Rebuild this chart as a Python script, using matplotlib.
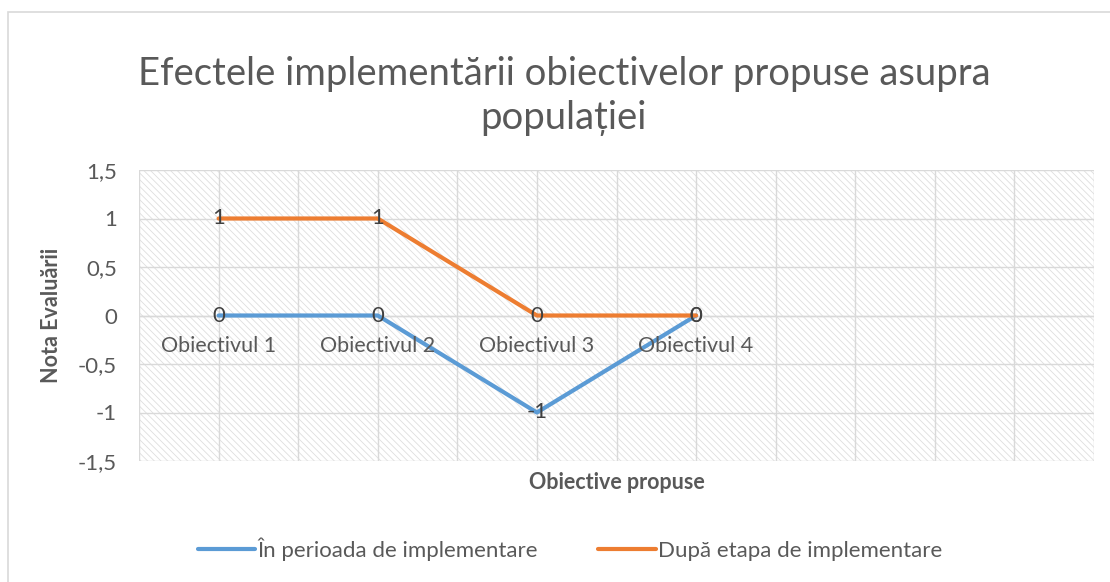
import matplotlib
matplotlib.use("Agg")
import matplotlib.pyplot as plt
from matplotlib.patches import Rectangle
from matplotlib.ticker import FuncFormatter, MultipleLocator

categories = ["Obiectivul 1", "Obiectivul 2", "Obiectivul 3", "Obiectivul 4"]
in_perioada = [0, 0, -1, 0]
dupa_etapa = [1, 1, 0, 0]
series_names = ["În perioada de implementare", "După etapa de implementare"]
title = "Efectele implementării obiectivelor propuse asupra\npopulației"

plt.rcParams['font.family'] = ['Lato', 'DejaVu Sans']
plt.rcParams['hatch.linewidth'] = 0.6
plt.rcParams['hatch.color'] = '#dedede'

fig = plt.figure(figsize=(11.1, 5.82), dpi=100)
# outer chart border
fig.patches.append(Rectangle((8/1110, -0.01), 1.02, (582-12)/582 + 0.01, transform=fig.transFigure,
                             fill=False, edgecolor='#d9d9d9', linewidth=1.2))

ax = fig.add_axes([139/1110, 1-461/582, (1094-139)/1110, (461-170)/582])
ax.set_xlim(-0.5, 5.5)
ax.set_ylim(-1.5, 1.5)

# hatched plot area
ax.add_patch(Rectangle((0, 0), 1, 1, transform=ax.transAxes, facecolor='white',
                       hatch='\\' * 5, edgecolor='#dedede', linewidth=0, zorder=0))

ax.yaxis.set_major_locator(MultipleLocator(0.5))
ax.xaxis.set_major_locator(MultipleLocator(0.5))
ax.grid(True, color='#d9d9d9', linewidth=1.0, zorder=1)
ax.set_axisbelow(True)
for s in ax.spines.values():
    s.set_visible(False)
ax.axhline(0, color='#d9d9d9', linewidth=1.0, zorder=1)

ax.yaxis.set_major_formatter(FuncFormatter(lambda v, p: f"{v:g}".replace('.', ',')))
ax.tick_params(axis='y', length=0, labelsize=16, labelcolor='#595959', pad=16)
ax.tick_params(axis='x', length=0, labelbottom=False)

x = list(range(len(categories)))
colors = ['#5b9bd5', '#ed7d31']
for vals, name, c in zip([in_perioada, dupa_etapa], series_names, colors):
    ax.plot(x, vals, color=c, linewidth=3, label=name, zorder=3, solid_capstyle='round')
    for xi, v in zip(x, vals):
        ax.text(xi, v, f"{v:g}", ha='center', va='center', fontsize=16, color='#404040', zorder=4)

for xi, cat in zip(x, categories):
    ax.annotate(cat, (xi, 0), xytext=(0, -22), textcoords='offset points', ha='center', va='center',
                fontsize=15.5, color='#595959', zorder=4)

ax.set_ylabel("Nota Evaluării", fontsize=15.5, fontweight='bold', color='#595959', labelpad=11)
ax.set_xlabel("Obiective propuse", fontsize=15.5, fontweight='bold', color='#595959', labelpad=8)

fig.text(0.508, 1-96/582, title, ha='center', va='center', fontsize=27.5, color='#595959',
         linespacing=1.25)

leg = fig.legend(loc='center', bbox_to_anchor=(570/1110, 1-549/582), ncol=2, frameon=False,
                 fontsize=16, labelcolor='#595959', handlelength=2.6, handletextpad=0.1,
                 columnspacing=2.7)

fig.savefig("out.png", dpi=100)
